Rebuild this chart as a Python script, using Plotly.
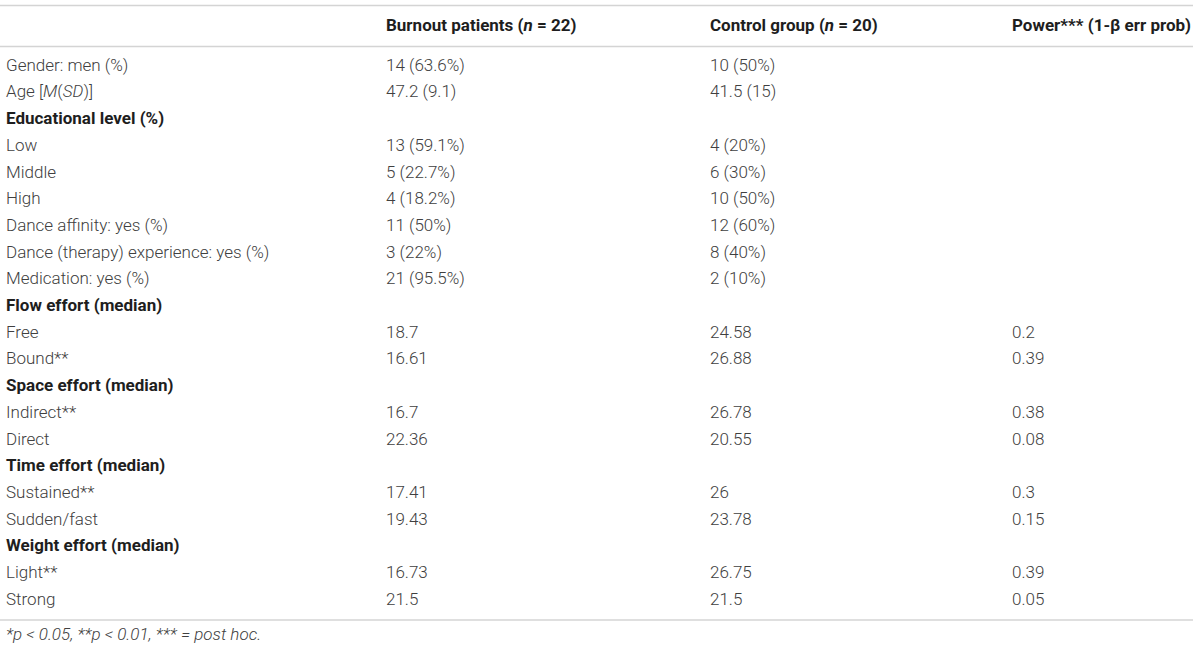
import plotly.graph_objects as go

# ---- table content ----
headers = ["", "<b>Burnout patients (<i>n</i> = 22)</b>",
           "<b>Control group (<i>n</i> = 20)</b>",
           "<b>Power*** (1-β err prob)</b>"]

labels = ["Gender: men (%)", "Age [<i>M</i>(<i>SD</i>)]", "Educational level (%)",
          "Low", "Middle", "High", "Dance affinity: yes (%)",
          "Dance (therapy) experience: yes (%)", "Medication: yes (%)",
          "Flow effort (median)", "Free", "Bound**",
          "Space effort (median)", "Indirect**", "Direct",
          "Time effort (median)", "Sustained**", "Sudden/fast",
          "Weight effort (median)", "Light**", "Strong"]

burnout = ["14 (63.6%)", "47.2 (9.1)", "", "13 (59.1%)", "5 (22.7%)", "4 (18.2%)",
           "11 (50%)", "3 (22%)", "21 (95.5%)", "", "18.7", "16.61",
           "", "16.7", "22.36", "", "17.41", "19.43", "", "16.73", "21.5"]

control = ["10 (50%)", "41.5 (15)", "", "4 (20%)", "6 (30%)", "10 (50%)",
           "12 (60%)", "8 (40%)", "2 (10%)", "", "24.58", "26.88",
           "", "26.78", "20.55", "", "26", "23.78", "", "26.75", "21.5"]

power = ["", "", "", "", "", "", "", "", "", "", "0.2", "0.39",
         "", "0.38", "0.08", "", "0.3", "0.15", "", "0.39", "0.05"]

section_rows = {"Educational level (%)", "Flow effort (median)",
                "Space effort (median)", "Time effort (median)",
                "Weight effort (median)"}

footnote = "<i>*p < 0.05, **p < 0.01, *** = post hoc.</i>"

# ---- layout constants (pixels) ----
W, H = 1200, 651
col_x = [6, 386, 710, 1012]
header_y = 27
row0_y = 66.5
row_step = 26.7
foot_y = 636
rule_ys = [5.5, 46.5, 620]
FS = 17

FONT = "Roboto, 'Helvetica Neue', Arial, sans-serif"
BODY_COLOR = "#404040"
HEAD_COLOR = "#1e1e1e"

fig = go.Figure()

# header row
fig.add_trace(go.Scatter(
    x=col_x[1:], y=[header_y] * 3, text=headers[1:], mode="text",
    textposition="middle right",
    textfont=dict(family=FONT, size=FS, color=HEAD_COLOR, weight=300),
    hoverinfo="skip", showlegend=False))

# body rows
ys = [row0_y + i * row_step for i in range(len(labels))]
label_text = [f"<b>{t}</b>" if t in section_rows else t for t in labels]
label_color = [HEAD_COLOR if t in section_rows else BODY_COLOR for t in labels]

fig.add_trace(go.Scatter(
    x=[col_x[0]] * len(labels), y=ys, text=label_text, mode="text",
    textposition="middle right",
    textfont=dict(family=FONT, size=FS, color=label_color, weight=300),
    hoverinfo="skip", showlegend=False))

for cx, col in zip(col_x[1:], [burnout, control, power]):
    fig.add_trace(go.Scatter(
        x=[cx] * len(col), y=ys, text=col, mode="text",
        textposition="middle right",
        textfont=dict(family=FONT, size=FS, color=BODY_COLOR, weight=300),
        hoverinfo="skip", showlegend=False))

# footnote
fig.add_trace(go.Scatter(
    x=[col_x[0]], y=[foot_y], text=[footnote], mode="text",
    textposition="middle right",
    textfont=dict(family=FONT, size=FS, color=BODY_COLOR, weight=300),
    hoverinfo="skip", showlegend=False))

# horizontal rules
for ry in rule_ys:
    fig.add_shape(type="line", x0=0, x1=1193, y0=ry, y1=ry,
                  xref="x", yref="y", line=dict(color="#d4d4d4", width=1.5))

fig.update_layout(
    width=W, height=H,
    margin=dict(l=0, r=0, t=0, b=0),
    paper_bgcolor="white", plot_bgcolor="white",
    xaxis=dict(range=[0, W], visible=False, fixedrange=True),
    yaxis=dict(range=[H, 0], visible=False, fixedrange=True),
)

fig.write_html("out.html", config={"displayModeBar": False},
               post_script="document.body.style.margin='0';"
                           "document.body.style.overflow='hidden';")
